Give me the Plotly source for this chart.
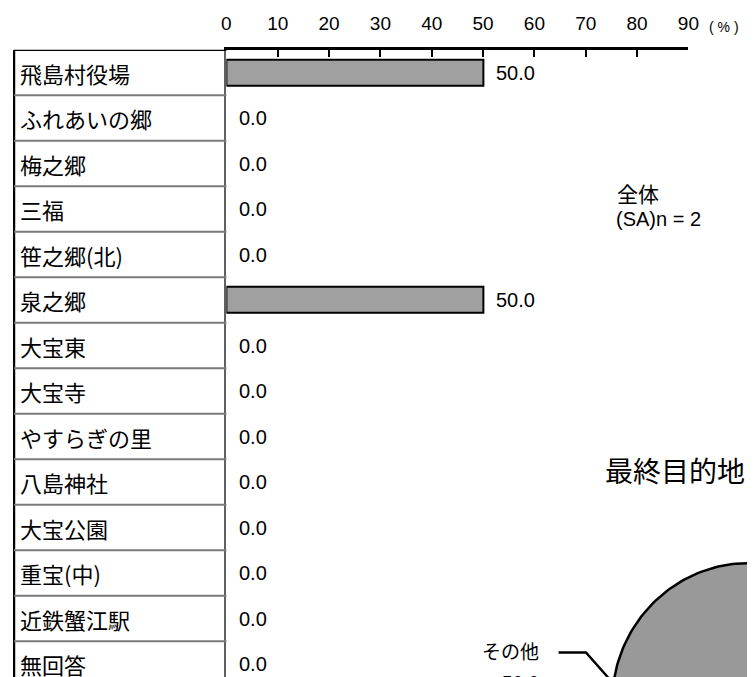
import math
import plotly.graph_objects as go

# ---------------- data ----------------
categories = ["飛島村役場", "ふれあいの郷", "梅之郷", "三福", "笹之郷(北)", "泉之郷",
              "大宝東", "大宝寺", "やすらぎの里", "八島神社", "大宝公園", "重宝(中)",
              "近鉄蟹江駅", "無回答"]
values = [50.0, 0.0, 0.0, 0.0, 0.0, 50.0, 0.0, 0.0, 0.0, 0.0, 0.0, 0.0, 0.0, 0.0]
x_ticks = [0, 10, 20, 30, 40, 50, 60, 70, 80, 90]
sample_title = "全体"
sample_note = "(SA)n = 2"
pie_title = "最終目的地"
pie_labels = ["泉之郷", "その他"]
pie_values = [50.0, 50.0]

# ---------------- layout constants ----------------
W, H = 755, 677
OFF = 8  # page body margin offset
JP = "Noto Sans CJK JP"
LAT = "Liberation Sans, Arial"
row0, pitch = 72.5, 45.5
top_px = row0 - pitch / 2
y_bottom = (H + OFF - row0) / pitch
x_left_px, x_zero_px, x_90_px = 9, 226, 698

fig = go.Figure()

idx = list(range(len(categories)))
fig.add_trace(go.Bar(
    x=values, y=idx, orientation="h", width=26 / pitch,
    marker=dict(color="#a0a0a0",
                line=dict(color="black", width=[2 if v > 0 else 0 for v in values])),
    hoverinfo="skip", showlegend=False, xaxis="x", yaxis="y"))

# ---------------- pie (partially visible, drawn via full-figure axes) ----------------
cx, cy, R = 760, 703, 140
start_deg = 82
total = sum(pie_values)
cum = 0.0
pie_fills = ["#999999", "#999999"]
mids = []
for lab, v, col in zip(pie_labels, pie_values, pie_fills):
    a0 = start_deg - 360 * cum / total
    a1 = start_deg - 360 * (cum + v) / total
    n = 120
    xs, ys = [cx], [cy]
    for i in range(n + 1):
        a = math.radians(a0 + (a1 - a0) * i / n)
        xs.append(cx + R * math.cos(a))
        ys.append(cy - R * math.sin(a))
    xs.append(cx); ys.append(cy)
    fig.add_trace(go.Scatter(x=xs, y=ys, mode="lines", fill="toself", fillcolor=col,
                             line=dict(color="black", width=2.5), hoverinfo="skip",
                             showlegend=False, xaxis="x2", yaxis="y2"))
    mids.append((a0 + a1) / 2)
    cum += v

# leader line for その他
m = math.radians(mids[1])
ex, ey = cx + R * math.cos(m), cy - R * math.sin(m)
elx, ely = ex - 28, ey - 31
fig.add_trace(go.Scatter(x=[ex, elx, elx - 28], y=[ey, ely, ely], mode="lines",
                         line=dict(color="black", width=2.5), hoverinfo="skip",
                         showlegend=False, xaxis="x2", yaxis="y2"))

annotations = []
for i, (c, v) in enumerate(zip(categories, values)):
    annotations.append(dict(x=13, y=i, xref="x2", yref="y", text=c, showarrow=False,
                            xanchor="left", yanchor="middle",
                            font=dict(family=JP, size=22, color="black")))
    annotations.append(dict(x=v, y=i, xref="x", yref="y", text=f"{v:.1f}", showarrow=False,
                            xanchor="left", yanchor="middle", xshift=11,
                            font=dict(family=LAT, size=20, color="black")))

annotations += [
    dict(x=734, y=27, xref="x2", yref="y2", text="( % )", showarrow=False,
         xanchor="center", yanchor="middle", font=dict(family=LAT, size=14, color="black")),
    dict(x=623, y=193, xref="x2", yref="y2", text=sample_title, showarrow=False,
         xanchor="left", yanchor="middle", font=dict(family=JP, size=21, color="black")),
    dict(x=622, y=219, xref="x2", yref="y2", text=sample_note, showarrow=False,
         xanchor="left", yanchor="middle", font=dict(family=LAT, size=20, color="black")),
    dict(x=611, y=470, xref="x2", yref="y2", text=pie_title, showarrow=False,
         xanchor="left", yanchor="middle", font=dict(family=JP, size=28, color="black")),
    dict(x=elx - 46, y=ely - 2, xref="x2", yref="y2", text=pie_labels[1], showarrow=False,
         xanchor="right", yanchor="middle", font=dict(family=JP, size=19, color="black")),
    dict(x=elx - 46, y=ely + 30, xref="x2", yref="y2", text=f"{pie_values[1]:.1f}",
         showarrow=False, xanchor="right", yanchor="middle",
         font=dict(family=LAT, size=19, color="black")),
]

shapes = []
# table borders
shapes.append(dict(type="line", xref="x2", yref="y", x0=x_left_px, x1=x_zero_px,
                   y0=-0.5, y1=-0.5, line=dict(color="black", width=2.5)))
shapes.append(dict(type="line", xref="x2", yref="y", x0=x_left_px, x1=x_left_px,
                   y0=-0.5, y1=y_bottom + 1, line=dict(color="black", width=2.5)))
for i in range(len(categories) - 1):
    shapes.append(dict(type="line", xref="x2", yref="y", x0=x_left_px, x1=x_zero_px,
                       y0=i + 0.5, y1=i + 0.5, line=dict(color="#7a7a7a", width=2)))

fig.update_layout(
    width=W, height=H, margin=dict(l=0, r=0, t=0, b=0),
    paper_bgcolor="white", plot_bgcolor="rgba(0,0,0,0)",
    showlegend=False, bargap=0,
    xaxis=dict(domain=[(x_zero_px - OFF) / W, (x_90_px - OFF) / W], range=[0, 90], side="top",
               tickvals=x_ticks, ticktext=[str(t) for t in x_ticks],
               ticks="inside", ticklen=7, tickwidth=2, tickcolor="black",
               showline=True, linecolor="black", linewidth=2.5,
               showgrid=False, zeroline=False, fixedrange=True, anchor="y",
               tickfont=dict(family=LAT, size=19, color="black"), ticklabelstandoff=9),
    yaxis=dict(domain=[0, 1 - (top_px - OFF) / H], range=[y_bottom, -0.5], showticklabels=False,
               ticks="", showgrid=False, zeroline=False, showline=True, anchor="x",
               linecolor="#606060", linewidth=2, fixedrange=True),
    xaxis2=dict(domain=[0, 1], range=[OFF, W + OFF], visible=False, fixedrange=True, anchor="y2"),
    yaxis2=dict(domain=[0, 1], range=[H + OFF, OFF], visible=False, fixedrange=True, anchor="x2"),
    annotations=annotations, shapes=shapes,
)

fig.write_html("out.html")
